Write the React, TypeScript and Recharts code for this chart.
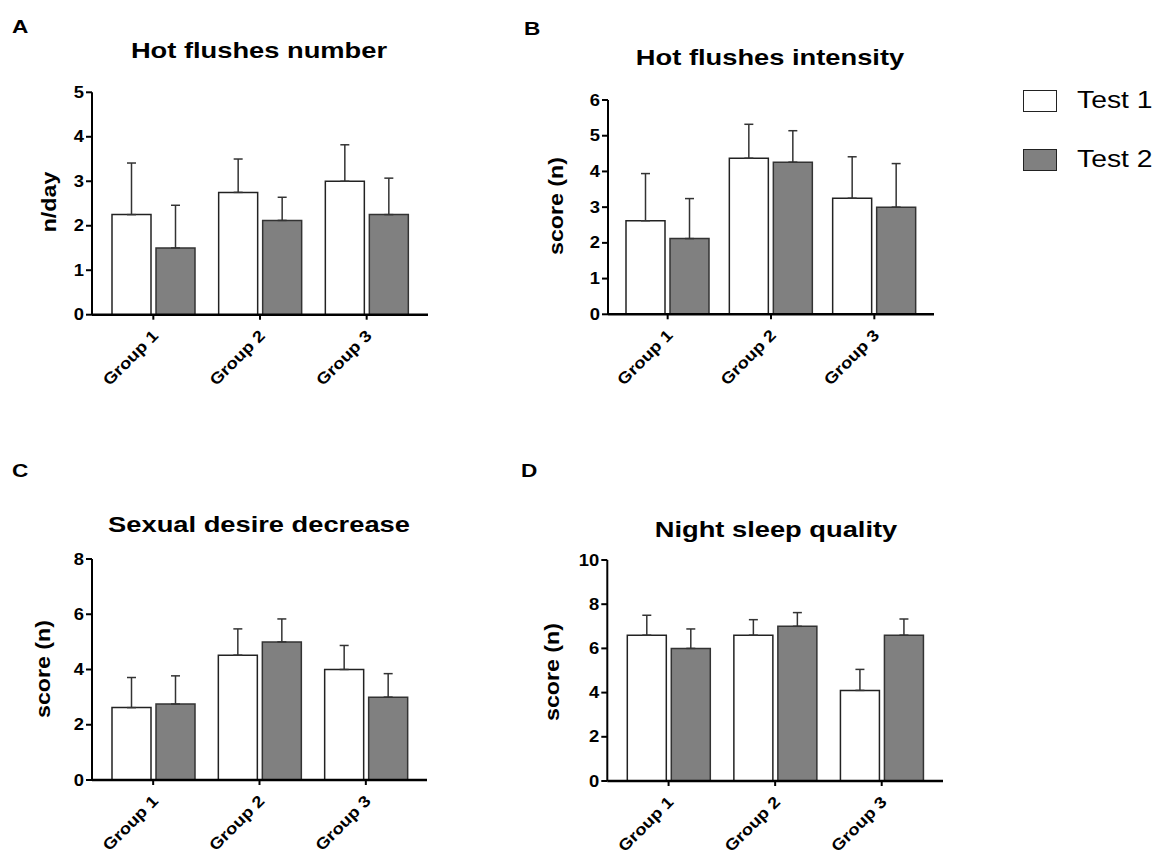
import React from 'react';
import { BarChart, Bar, XAxis, YAxis, ErrorBar } from 'recharts';

const groups = ['Group 1', 'Group 2', 'Group 3'];
const seriesNames = ['Test 1', 'Test 2'];

// A - hot flushes number (n/day)
const numberTest1 = [2.25, 2.75, 3.0];
const numberTest1Err = [1.16, 0.75, 0.82];
const numberTest2 = [1.5, 2.12, 2.25];
const numberTest2Err = [0.96, 0.52, 0.82];
const numberTicks = [0, 1, 2, 3, 4, 5];

// B - hot flushes intensity
const intensityTest1 = [2.62, 4.37, 3.25];
const intensityTest1Err = [1.32, 0.95, 1.16];
const intensityTest2 = [2.12, 4.26, 3.0];
const intensityTest2Err = [1.12, 0.88, 1.22];
const intensityTicks = [0, 1, 2, 3, 4, 5, 6];

// C - sexual desire decrease
const desireTest1 = [2.62, 4.52, 4.0];
const desireTest1Err = [1.09, 0.95, 0.87];
const desireTest2 = [2.75, 5.0, 3.0];
const desireTest2Err = [1.02, 0.83, 0.85];
const desireTicks = [0, 2, 4, 6, 8];

// D - night sleep quality
const sleepTest1 = [6.6, 6.6, 4.1];
const sleepTest1Err = [0.9, 0.7, 0.95];
const sleepTest2 = [6.0, 7.0, 6.6];
const sleepTest2Err = [0.88, 0.62, 0.73];
const sleepTicks = [0, 2, 4, 6, 8, 10];

const FONT = "'Liberation Sans', Arial, sans-serif";

const buildRows = (t1: number[], e1: number[], t2: number[], e2: number[]) =>
  groups.map((g, i) => ({
    group: g,
    t1: t1[i],
    err1: [0, e1[i]],
    t2: t2[i],
    err2: [0, e2[i]],
  }));

const YTick = (props: any) => {
  const { x, y, payload } = props;
  return (
    <text
      transform={`translate(${x},${y}) scale(1.15,1)`}
      textAnchor="end"
      dominantBaseline="central"
      fontSize={16}
      fontWeight="bold"
      fontFamily={FONT}
      fill="#000"
    >
      {payload.value}
    </text>
  );
};

const XTick = (props: any) => {
  const { x, y, payload } = props;
  return (
    <text
      transform={`translate(${x + 6},${y + 15}) rotate(-45) scale(1.15,1)`}
      textAnchor="end"
      fontSize={16}
      fontWeight="bold"
      fontFamily={FONT}
      fill="#000"
    >
      {payload.value}
    </text>
  );
};

type PanelProps = {
  rows: any[];
  ticks: number[];
  left: number;
  top: number;
  width: number;
  height: number;
  plotTop: number;
  yWidth: number;
  rightGap: number;
  xHeight: number;
};

const Panel = ({ rows, ticks, left, top, width, height, plotTop, yWidth, rightGap, xHeight }: PanelProps) => (
  <div style={{ position: 'absolute', left, top }}>
    <BarChart
      width={width}
      height={height}
      data={rows}
      margin={{ top: plotTop, right: rightGap, bottom: 0, left: 0 }}
      barSize={39}
      barGap={5}
    >
      <XAxis
        dataKey="group"
        interval={0}
        padding={{ left: 8, right: 8 }}
        height={xHeight}
        axisLine={{ stroke: '#000', strokeWidth: 2.5 }}
        tickLine={{ stroke: '#000', strokeWidth: 2 }}
        tickSize={5}
        tick={<XTick />}
      />
      <YAxis
        domain={[0, ticks[ticks.length - 1]]}
        ticks={ticks}
        width={yWidth}
        axisLine={{ stroke: '#000', strokeWidth: 2 }}
        tickLine={{ stroke: '#000', strokeWidth: 2 }}
        tickSize={6}
        tick={<YTick />}
        allowDataOverflow
      />
      <Bar dataKey="t1" name={seriesNames[0]} fill="#ffffff" stroke="#222" strokeWidth={1.5} isAnimationActive={false}>
        <ErrorBar dataKey="err1" width={4.5} stroke="#333" strokeWidth={1.5} direction="y" />
      </Bar>
      <Bar dataKey="t2" name={seriesNames[1]} fill="#808080" stroke="#333" strokeWidth={1.5} isAnimationActive={false}>
        <ErrorBar dataKey="err2" width={4.5} stroke="#333" strokeWidth={1.5} direction="y" />
      </Bar>
    </BarChart>
  </div>
);

const Letter = ({ text, x, baseline }: { text: string; x: number; baseline: number }) => (
  <div
    style={{
      position: 'absolute',
      left: x,
      top: baseline - 16.9,
      fontSize: 19,
      lineHeight: '19px',
      fontWeight: 'bold',
      fontFamily: FONT,
      transform: 'scaleX(1.19)',
      transformOrigin: 'left center',
      whiteSpace: 'nowrap',
    }}
  >
    {text}
  </div>
);

const Title = ({ text, cx, baseline }: { text: string; cx: number; baseline: number }) => (
  <div
    style={{
      position: 'absolute',
      left: cx,
      top: baseline - 18.6,
      fontSize: 22,
      lineHeight: '22px',
      fontWeight: 'bold',
      fontFamily: FONT,
      transform: 'translateX(-50%) scaleX(1.24)',
      whiteSpace: 'nowrap',
    }}
  >
    {text}
  </div>
);

const YLabel = ({ text, cx, cy }: { text: string; cx: number; cy: number }) => (
  <div
    style={{
      position: 'absolute',
      left: cx,
      top: cy,
      fontSize: 20,
      lineHeight: '20px',
      fontWeight: 'bold',
      fontFamily: FONT,
      transform: 'translate(-50%,-50%) rotate(-90deg) scaleX(1.16)',
      whiteSpace: 'nowrap',
    }}
  >
    {text}
  </div>
);

const LegendItem = ({ label, fill, top }: { label: string; fill: string; top: number }) => (
  <>
    <div
      style={{
        position: 'absolute',
        left: 1023,
        top,
        width: 32,
        height: 20,
        background: fill,
        border: '1.5px solid #222',
      }}
    />
    <div
      style={{
        position: 'absolute',
        left: 1077,
        top: top - 1,
        fontSize: 23,
        lineHeight: '23px',
        fontFamily: FONT,
        transform: 'scaleX(1.23)',
        transformOrigin: 'left center',
        whiteSpace: 'nowrap',
      }}
    >
      {label}
    </div>
  </>
);

export default function App() {
  return (
    <div
      style={{
        position: 'absolute',
        left: 0,
        top: 0,
        width: 1162,
        height: 850,
        overflow: 'hidden',
        background: '#fff',
        fontFamily: FONT,
      }}
    >
      <Panel
        rows={buildRows(numberTest1, numberTest1Err, numberTest2, numberTest2Err)}
        ticks={numberTicks}
        left={0}
        top={0}
        width={440}
        height={420}
        plotTop={92.3}
        yWidth={92}
        rightGap={12}
        xHeight={105.3}
      />
      <Panel
        rows={buildRows(intensityTest1, intensityTest1Err, intensityTest2, intensityTest2Err)}
        ticks={intensityTicks}
        left={520}
        top={0}
        width={430}
        height={420}
        plotTop={100}
        yWidth={88}
        rightGap={16}
        xHeight={105.7}
      />
      <Panel
        rows={buildRows(desireTest1, desireTest1Err, desireTest2, desireTest2Err)}
        ticks={desireTicks}
        left={0}
        top={450}
        width={440}
        height={400}
        plotTop={109}
        yWidth={92}
        rightGap={13}
        xHeight={70}
      />
      <Panel
        rows={buildRows(sleepTest1, sleepTest1Err, sleepTest2, sleepTest2Err)}
        ticks={sleepTicks}
        left={520}
        top={450}
        width={440}
        height={400}
        plotTop={110}
        yWidth={87.3}
        rightGap={17}
        xHeight={69}
      />

      <Letter text="A" x={12} baseline={34} />
      <Letter text="B" x={524} baseline={36} />
      <Letter text="C" x={12} baseline={478} />
      <Letter text="D" x={521} baseline={478} />

      <Title text="Hot flushes number" cx={259} baseline={59} />
      <Title text="Hot flushes intensity" cx={770} baseline={66} />
      <Title text="Sexual desire decrease" cx={259} baseline={533} />
      <Title text="Night sleep quality" cx={776} baseline={538} />

      <YLabel text="n/day" cx={48.5} cy={202} />
      <YLabel text="score (n)" cx={556} cy={206} />
      <YLabel text="score (n)" cx={42.5} cy={669} />
      <YLabel text="score (n)" cx={551.7} cy={671.7} />

      <LegendItem label={seriesNames[0]} fill="#ffffff" top={90} />
      <LegendItem label={seriesNames[1]} fill="#808080" top={149} />
    </div>
  );
}
